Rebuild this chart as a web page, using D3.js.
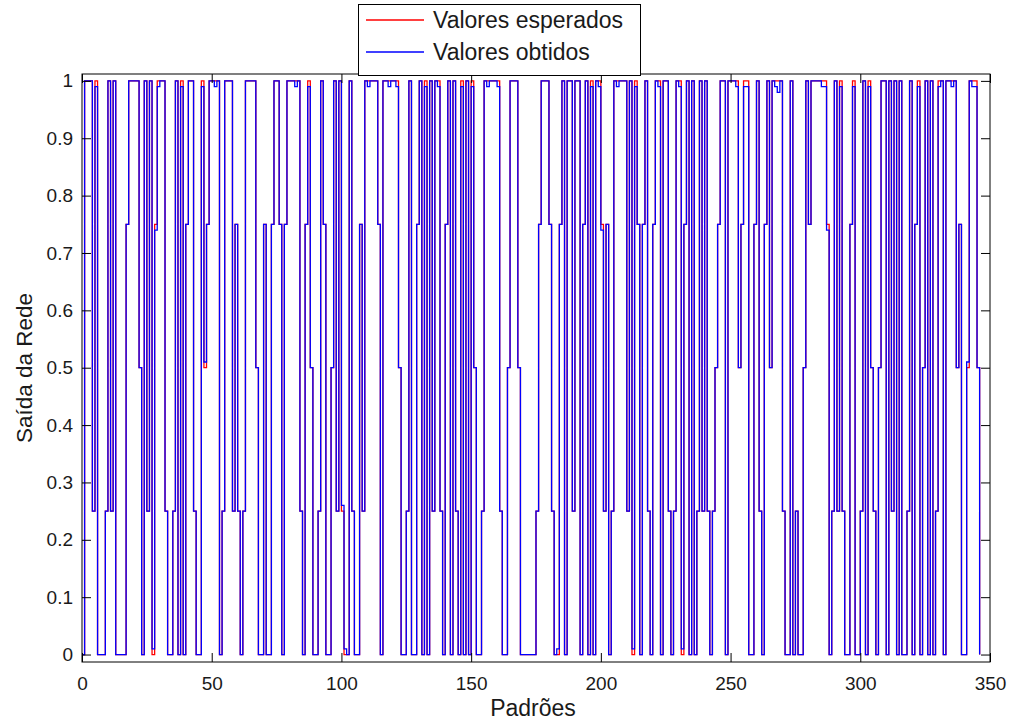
<!DOCTYPE html>
<html>
<head>
<meta charset="utf-8">
<script src="https://cdn.jsdelivr.net/npm/d3@7"></script>
<style>
  html, body { margin: 0; padding: 0; background: #fff; }
  svg { display: block; font-family: "Liberation Sans", Arial, sans-serif; }
</style>
</head>
<body>
<svg id="chart" width="1015" height="722"></svg>
<script>
// ---- data ----
const seriesNames = ["Valores esperados", "Valores obtidos"];
const xTicks = [0, 50, 100, 150, 200, 250, 300, 350];
const yTicks = [0, 0.1, 0.2, 0.3, 0.4, 0.5, 0.6, 0.7, 0.8, 0.9, 1];
const xTitle = "Padrões";
const yTitle = "Saída da Rede";

const expected = [
0,1,1,1,.25,1,0,0,0,.25,
1,.25,1,0,0,0,0,.75,1,1,
1,1,.5,0,1,.25,1,0,.75,1,
1,1,.25,0,0,.25,1,0,1,0,
.75,1,1,.25,0,0,1,.5,.75,1,
1,1,1,0,.25,1,1,1,.25,.75,
.25,0,.25,1,1,1,1,.5,0,0,
.75,0,0,.75,1,1,.75,0,.75,1,
1,1,1,1,.25,0,.75,1,.5,0,
0,.25,1,.75,0,0,.5,1,.25,1,
.25,0,0,1,.25,0,0,.75,.25,1,
1,1,1,1,.75,0,1,1,1,1,
1,1,.5,0,0,.25,1,0,0,.75,
1,0,1,0,1,.25,1,1,.25,0,
.75,1,0,1,.25,0,1,0,1,0,
1,.5,0,0,.25,1,1,1,1,1,
1,.25,0,0,.5,1,1,1,.5,0,
0,0,0,0,0,.25,.75,1,1,1,
.75,.25,0,0,.75,1,0,1,1,.25,
1,1,0,.75,1,0,1,0,1,1,
.75,.25,.75,0,.25,1,1,1,1,1,
.25,1,0,1,.75,0,.75,1,.25,0,
.75,1,1,0,1,1,.25,0,.25,1,
1,0,.75,1,0,1,0,.25,1,.25,
1,.25,0,.25,.5,.75,1,1,0,1,
1,1,1,.5,.75,1,1,0,0,.75,
1,.25,0,.75,1,.5,1,1,1,1,
.25,0,0,1,0,.25,0,0,.5,1,
.75,1,1,1,1,1,1,.75,0,.25,
1,.25,1,.25,0,0,.75,1,0,0,
.25,1,0,1,.5,.25,0,.5,1,1,
0,1,.25,1,0,1,0,0,.25,1,
0,.75,1,0,.5,1,0,1,0,.25,
1,1,0,1,1,1,1,.5,.75,0,
0,.5,1,1,1,.5,0
];

const obtained = [
0,1,1,1,.25,.99,0,0,0,.25,
1,.25,1,0,0,0,0,.75,1,1,
1,1,.5,0,1,.25,1,.01,.74,.99,
1,1,.25,0,0,.25,1,0,.99,0,
.75,1,1,.25,0,0,.99,.51,.75,1,
1,.99,1,0,.25,1,1,1,.25,.75,
.25,0,.25,1,1,1,1,.5,0,0,
.75,0,0,.75,1,1,.75,0,.75,1,
1,1,.99,1,.25,0,.75,.99,.5,0,
0,.25,1,.75,0,0,.5,1,.25,1,
.26,.01,0,1,.25,0,0,.75,.25,1,
.99,1,1,1,.75,0,1,1,.99,1,
1,.99,.5,0,0,.25,1,0,0,.75,
1,0,.99,0,1,.25,1,.99,.25,0,
.75,1,0,1,.25,0,.99,0,1,0,
.99,.5,0,0,.25,1,.99,1,1,1,
.99,.25,0,0,.5,1,1,1,.5,0,
0,0,0,0,0,.25,.75,1,1,1,
.75,.25,0,.01,.75,1,0,1,1,.25,
1,1,0,.75,1,0,.99,0,1,.99,
.74,.25,.75,0,.25,1,.99,1,1,1,
.25,1,.01,.99,.75,0,.75,1,.25,0,
.75,1,.99,0,1,1,.25,0,.25,1,
.99,.01,.75,1,0,1,0,.25,1,.25,
1,.25,0,.25,.5,.75,1,1,0,1,
1,1,.99,.5,.75,.99,.99,0,0,.75,
1,.25,0,.75,1,.5,1,.99,.98,1,
.25,0,0,1,0,.25,0,0,.5,1,
.75,1,1,1,1,.99,.99,.74,0,.25,
1,.25,.99,.25,0,0,.75,.99,0,0,
.25,1,0,.99,.5,.25,0,.5,1,1,
0,1,.25,1,0,1,0,0,.25,1,
0,.75,.99,0,.5,1,0,1,0,.25,
.99,1,0,1,1,.99,1,.5,.75,0,
0,.51,1,.99,.99,.5,0
];

// ---- layout ----
const svg = d3.select("#chart");
const W = 1015, H = 722;
const L = 82, R = 990, T = 74, B = 662;
const textColor = "#1a1a1a";
const fontFam = "Liberation Sans, Arial, sans-serif";

svg.append("rect").attr("width", W).attr("height", H).attr("fill", "#fff");

const x = d3.scaleLinear().domain([0, 350]).range([L, R]);
const y = d3.scaleLinear().domain([-0.013, 1.012]).range([B, T]);

svg.append("clipPath").attr("id", "clip")
  .append("rect").attr("x", L).attr("y", T).attr("width", R - L).attr("height", B - T);

const line = d3.line().curve(d3.curveStepAfter).x((d, i) => x(i)).y(d => y(d));

const g = svg.append("g").attr("clip-path", "url(#clip)");
g.append("path").datum(expected).attr("d", line)
  .attr("fill", "none").attr("stroke", "#ff0000").attr("stroke-width", 1.3);
g.append("path").datum(obtained).attr("d", line)
  .attr("fill", "none").attr("stroke", "#0000ff").attr("stroke-width", 1.3);

// axes (ticks inward, mirrored)
const tickLen = 9;
const gx = svg.append("g").attr("transform", `translate(0,${B})`)
  .call(d3.axisBottom(x).tickValues(xTicks).tickSize(tickLen).tickFormat(d3.format("d")));
gx.select(".domain").remove();
gx.selectAll(".tick line").attr("y2", -tickLen).attr("stroke", "#000");
gx.selectAll(".tick text").attr("y", 15).attr("dy", "0.71em").attr("font-size", 19)
  .attr("fill", textColor).attr("font-family", fontFam);

const gxTop = svg.append("g").attr("transform", `translate(0,${T})`)
  .call(d3.axisTop(x).tickValues(xTicks).tickSize(tickLen).tickFormat(""));
gxTop.select(".domain").remove();
gxTop.selectAll(".tick line").attr("y2", tickLen).attr("stroke", "#000");

const gy = svg.append("g").attr("transform", `translate(${L},0)`)
  .call(d3.axisLeft(y).tickValues(yTicks).tickSize(tickLen)
    .tickFormat(d => d === 0 ? "0" : d === 1 ? "1" : d3.format(".1f")(d)));
gy.select(".domain").remove();
gy.selectAll(".tick line").attr("x2", tickLen).attr("stroke", "#000");
gy.selectAll(".tick text").attr("x", -9).attr("font-size", 19)
  .attr("fill", textColor).attr("font-family", fontFam);

const gyR = svg.append("g").attr("transform", `translate(${R},0)`)
  .call(d3.axisRight(y).tickValues(yTicks).tickSize(tickLen).tickFormat(""));
gyR.select(".domain").remove();
gyR.selectAll(".tick line").attr("x2", -tickLen).attr("stroke", "#000");

svg.append("rect").attr("x", L).attr("y", T).attr("width", R - L).attr("height", B - T)
  .attr("fill", "none").attr("stroke", "#000").attr("stroke-width", 1);

// titles
svg.append("text").attr("x", 533).attr("y", 716).attr("text-anchor", "middle")
  .attr("font-size", 23).attr("fill", textColor).text(xTitle);
svg.append("text").attr("transform", `translate(32,${(T + B) / 2}) rotate(-90)`)
  .attr("text-anchor", "middle").attr("font-size", 22.5).attr("fill", textColor).text(yTitle);

// legend
const lg = svg.append("g");
lg.append("rect").attr("x", 358.5).attr("y", 4.5).attr("width", 282).attr("height", 71)
  .attr("fill", "#fff").attr("stroke", "#000").attr("stroke-width", 1);
const legColors = ["#ff0000", "#0000ff"];
seriesNames.forEach((name, i) => {
  const yy = 20 + i * 32;
  lg.append("line").attr("x1", 366).attr("x2", 424).attr("y1", yy).attr("y2", yy)
    .attr("stroke", legColors[i]).attr("stroke-width", 1.3);
  lg.append("text").attr("x", 433).attr("y", yy + 8).attr("font-size", 23)
    .attr("fill", textColor).text(name);
});
</script>
</body>
</html>
